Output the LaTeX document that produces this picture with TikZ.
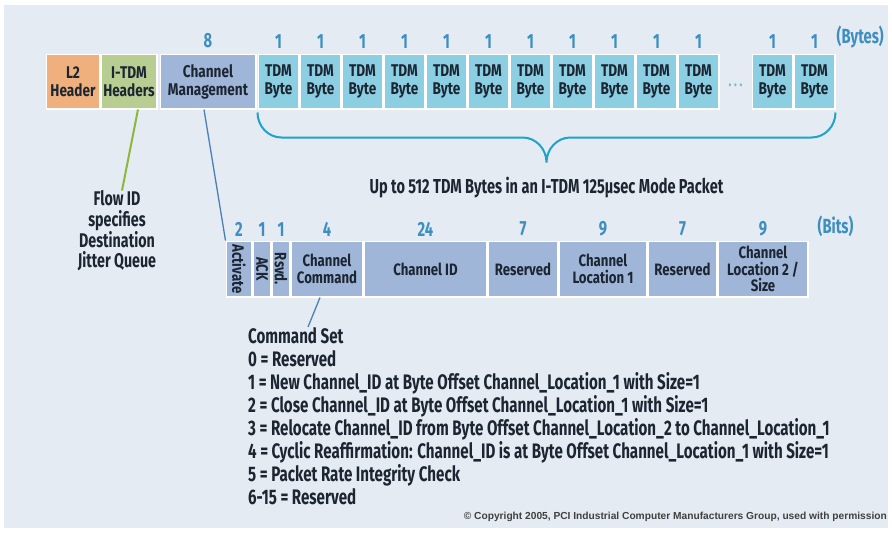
\documentclass[tikz,border=0pt]{standalone}
\usepackage{fontspec}
\newfontfamily\boxfont{Fira Sans}[FakeStretch=0.8]
\newfontfamily\dinfont{Fira Sans}[FakeStretch=0.72]
\newfontfamily\copyfont{Liberation Sans}
\usepackage{tikz}
\usetikzlibrary{calc}
\usetikzlibrary{positioning}

\definecolor{bgblue}{HTML}{E4EBF2}
\definecolor{ink}{HTML}{1C2633}
\definecolor{numblue}{HTML}{3E8EC0}
\definecolor{l2orange}{HTML}{F0B07E}
\definecolor{itdmgreen}{HTML}{B7CD91}
\definecolor{mgmtblue}{HTML}{A0B6D8}
\definecolor{tdmcyan}{HTML}{8CCFE2}
\definecolor{bracecyan}{HTML}{1FA3C9}
\definecolor{flowgreen}{HTML}{8BB83A}
\definecolor{linkblue}{HTML}{4A80B8}

\begin{document}
\begin{tikzpicture}[x=1pt,y=-1pt,
    field/.style={draw=white, line width=1.5pt, fill=mgmtblue, text=ink,
      minimum height=54.5pt, inner sep=0pt, align=center,
      font=\boxfont\bfseries\fontsize{17}{18}\selectfont},
    tdmbyte/.style={field, fill=tdmcyan, minimum width=40.5pt},
    bitfield/.style={field, minimum height=55.5pt,
      font=\boxfont\bfseries\fontsize{16.5}{16.5}\selectfont},
    num/.style={text=numblue, inner sep=0pt,
      font=\dinfont\bfseries\fontsize{20.5}{20}\selectfont},
    note/.style={text=ink, inner sep=0pt,
      font=\dinfont\bfseries\fontsize{19.8}{20.3}\selectfont},
    brace/.style={bracecyan, line width=2pt},
  ]
  \fill[bgblue] (4,5) rectangle (888,528);
  \useasboundingbox (0,0) rectangle (892,533);

  % packet
  \node[field, fill=l2orange, minimum width=53.5pt] (l2) at (73,81.5) {L2\\Header};
  \node[field, fill=itdmgreen, minimum width=55.5pt, right=0pt of l2] (itdm) {I-TDM\\Headers};
  \node[field, minimum width=95.5pt, right=2pt of itdm] (mgmt) {Channel\\Management};
  \node[tdmbyte, right=1pt of mgmt] (b1) {TDM\\Byte};
  \foreach \i [remember=\i as \j (initially 1)] in {2,...,11}
    \node[tdmbyte, right=0pt of b\j] (b\i) {TDM\\Byte};
  \node[tdmbyte, right=32pt of b11] (b12) {TDM\\Byte};
  \node[tdmbyte, right=0pt of b12] (b13) {TDM\\Byte};
  \node[text=tdmcyan!60!numblue, inner sep=0pt, font=\dinfont\bfseries\fontsize{16}{16}\selectfont]
    (dots) at ($(b11.east)!0.5!(b12.west)+(0,4)$) {.\,.\,.};

  \node[num, above=5pt of mgmt] (w0) {8};
  \foreach \i in {1,...,13}
    \node[num, above=5pt of b\i] (w\i) {1};
  \node[num, above right=5pt and 1pt of b13] (bytes) {(Bytes)};

  % brace under the TDM bytes
  \coordinate (bl) at ($(b1.south west)+(0,3)$);
  \coordinate (br) at ($(b13.south east)+(0,3)$);
  \coordinate (tip) at ($(bl)!0.5!(br)+(0,50)$);
  \draw[brace] (bl) to[out=-90,in=180] ($(bl)+(24,25)$) -- ($(tip)+(-24,-25)$)
    to[out=0,in=90] (tip) to[out=90,in=180] ($(tip)+(24,-25)$)
    -- ($(br)+(-24,25)$) to[out=0,in=-90] (br);
  \node[note, below=14pt of tip, font=\dinfont\bfseries\fontsize{20.2}{20}\selectfont] (span)
    {Up to 512 TDM Bytes in an I-TDM 125μsec Mode Packet};

  % flow id
  \node[note, align=center] (flow) at (117,231) {Flow ID\\specifies\\Destination\\Jitter Queue};
  \draw[flowgreen, line width=2pt] ([xshift=9pt]itdm.south) -- ([xshift=5pt]flow.north);

  % channel management bits
  \node[bitfield, minimum width=25.5pt] (act) at (239,269) {\rotatebox{-90}{Activate}};
  \node[bitfield, minimum width=17.5pt, right=0pt of act] (ack) {\rotatebox{-90}{ACK}};
  \node[bitfield, minimum width=17.5pt, right=0pt of ack] (rsvd) {\rotatebox{-90}{Rsvd.}};
  \node[bitfield, minimum width=71.5pt, right=0pt of rsvd] (cmd) {Channel\\Command};
  \node[bitfield, minimum width=122.5pt, right=0pt of cmd] (chid) {Channel ID};
  \node[bitfield, minimum width=69.5pt, right=0pt of chid] (res1) {Reserved};
  \node[bitfield, minimum width=87.5pt, right=0pt of res1] (loc1) {Channel\\Location 1};
  \node[bitfield, minimum width=68.5pt, right=0pt of loc1] (res2) {Reserved};
  \node[bitfield, minimum width=89.5pt, right=0pt of res2] (loc2) {Channel\\Location 2 /\\Size};

  \node[num, above=4pt of act] (n1) {2};
  \node[num, above=4pt of ack] (n2) {1};
  \node[num, above=4pt of rsvd] (n3) {1};
  \node[num, above=4pt of cmd] (n4) {4};
  \node[num, above=4pt of chid] (n5) {24};
  \node[num, above=4pt of res1] (n6) {7};
  \node[num, above=4pt of loc1] (n7) {9};
  \node[num, above=4pt of res2] (n8) {7};
  \node[num, above=4pt of loc2] (n9) {9};
  \node[num, above right=4pt and 9pt of loc2] (bits) {(Bits)};

  \draw[linkblue, line width=1.3pt] ([xshift=-4pt]mgmt.south) -- (act.north west);

  % command set
  \node[note, align=left, anchor=north west, font=\dinfont\bfseries\fontsize{21}{23}\selectfont]
    (cmds) at (248,327) {Command Set\\
    0 = Reserved\\
    1 = New Channel\_ID at Byte Offset Channel\_Location\_1 with Size=1\\
    2 = Close Channel\_ID at Byte Offset Channel\_Location\_1 with Size=1\\
    3 = Relocate Channel\_ID from Byte Offset Channel\_Location\_2 to Channel\_Location\_1\\
    4 = Cyclic Reaffirmation: Channel\_ID is at Byte Offset Channel\_Location\_1 with Size=1\\
    5 = Packet Rate Integrity Check\\
    6-15 = Reserved};
  \draw[linkblue, line width=1.3pt] ([xshift=-7pt]cmd.south) -- ([xshift=60pt]cmds.north west);

  \node[anchor=south east, inner sep=0pt, text=black!75,
    font=\copyfont\bfseries\fontsize{10.2}{11}\selectfont]
    (copy) at (887,522) {© Copyright 2005, PCI Industrial Computer Manufacturers Group, used with permission};
\end{tikzpicture}
\end{document}
